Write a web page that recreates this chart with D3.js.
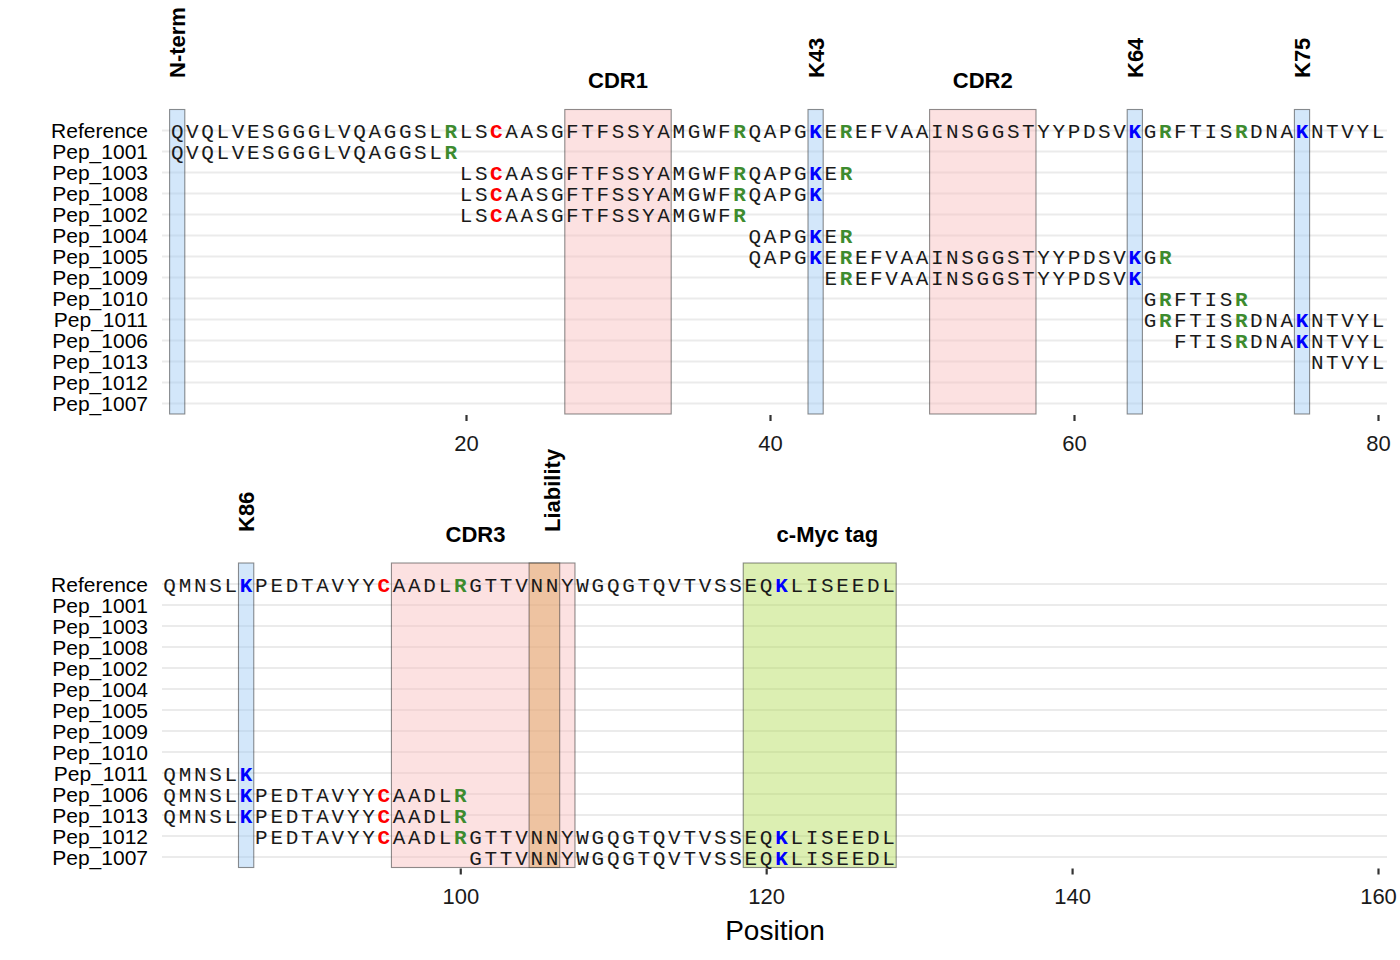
<!DOCTYPE html>
<html><head><meta charset="utf-8">
<script src="https://cdn.jsdelivr.net/npm/d3@7"></script>
<style>
body{margin:0;background:#fff;}
svg{display:block;}
</style></head>
<body>
<svg id="chart" width="1400" height="960"></svg>
<script>
// ---------------- DATA ----------------
const rowNames = ["Reference","Pep_1001","Pep_1003","Pep_1008","Pep_1002","Pep_1004","Pep_1005",
  "Pep_1009","Pep_1010","Pep_1011","Pep_1006","Pep_1013","Pep_1012","Pep_1007"];
const referenceSeq = "QVQLVESGGGLVQAGGSLRLSCAASGFTFSSYAMGWFRQAPGKEREFVAAINSGGSTYYPDSVKGRFTISRDNAKNTVYLQMNSLKPEDTAVYYCAADLRGTTVNNYWGQGTQVTVSSEQKLISEEDL";
const peptideIds = ["Pep_1001","Pep_1003","Pep_1008","Pep_1002","Pep_1004","Pep_1005","Pep_1009",
  "Pep_1010","Pep_1011","Pep_1006","Pep_1013","Pep_1012","Pep_1007"];
const peptideStarts = [1,20,20,20,39,39,44,65,65,67,76,87,101];
const peptideSeqs = [
  "QVQLVESGGGLVQAGGSLR",
  "LSCAASGFTFSSYAMGWFRQAPGKER",
  "LSCAASGFTFSSYAMGWFRQAPGK",
  "LSCAASGFTFSSYAMGWFR",
  "QAPGKER",
  "QAPGKEREFVAAINSGGSTYYPDSVKGR",
  "EREFVAAINSGGSTYYPDSVK",
  "GRFTISR",
  "GRFTISRDNAKNTVYLQMNSLK",
  "FTISRDNAKNTVYLQMNSLKPEDTAVYYCAADLR",
  "NTVYLQMNSLKPEDTAVYYCAADLR",
  "PEDTAVYYCAADLRGTTVNNYWGQGTQVTVSSEQKLISEEDL",
  "GTTVNNYWGQGTQVTVSSEQKLISEEDL"
];
const regionNames  = ["N-term","CDR1","K43","CDR2","K64","K75","K86","CDR3","Liability","c-Myc tag"];
const regionStarts = [1,27,43,51,64,75,86,96,105,119];
const regionEnds   = [1,33,43,57,64,75,86,107,106,128];
const regionLabelPos = [1,30,43,54,64,75,86,101,106,124];
const regionKinds  = ["site","cdr","site","cdr","site","site","site","cdr","liability","tag"];
const regionVertical = [true,false,true,false,true,true,true,false,true,false];
const panelDomains = [[0,80],[80.5,160]];
const tickValues = [[20,40,60,80],[100,120,140,160]];

// ---------------- STYLE ----------------
const kindFill = {site:"#9ecaf5", cdr:"#f8bcbc", liability:"#de9f55", tag:"#b1db54"};
const resColor = {K:"#0000ff", R:"#3d8b2f", C:"#ff0000"};
const panelTop = [130.5, 584];
const rowStep = 21;
const xRange = [162,1378];
const gridRight = 1387;

const svg = d3.select("#chart");

const xScales = panelDomains.map(d => d3.scaleLinear().domain(d).range(xRange));
const yScales = panelTop.map(t => d3.scaleLinear().domain([0, rowNames.length-1]).range([t, t+rowStep*(rowNames.length-1)]));
const panelOf = p => p <= 80 ? 0 : 1;

// Residue records
const residues = [];
referenceSeq.split("").forEach((a,i) => residues.push({row:0, pos:i+1, aa:a}));
peptideIds.forEach((id,k) => {
  const r = rowNames.indexOf(id);
  peptideSeqs[k].split("").forEach((a,i) => residues.push({row:r, pos:peptideStarts[k]+i, aa:a}));
});

const regions = regionNames.map((n,i) => ({name:n, start:regionStarts[i], end:regionEnds[i],
  label:regionLabelPos[i], kind:regionKinds[i], vertical:regionVertical[i]}));

[0,1].forEach(pi => {
  const x = xScales[pi], y = yScales[pi];
  const g = svg.append("g");
  // grid lines
  g.selectAll("line.grid").data(rowNames).join("line")
    .attr("x1", xRange[0]).attr("x2", gridRight)
    .attr("y1", (d,i) => y(i)).attr("y2", (d,i) => y(i))
    .attr("stroke", "#ebebeb").attr("stroke-width", 2);
  // row labels
  g.selectAll("text.row").data(rowNames).join("text")
    .attr("x", 148).attr("y", (d,i) => y(i)).attr("dy","0.36em")
    .attr("text-anchor","end").attr("font-family","Liberation Sans, Arial, sans-serif")
    .attr("font-size", 21).attr("fill","#000").text(d => d);
  // region boxes
  const regs = regions.filter(r => panelOf(r.start) === pi);
  const yTop = y(-1), yBot = y(rowNames.length - 0.5);
  g.selectAll("rect.reg").data(regs).join("rect")
    .attr("x", d => x(d.start - 0.5)).attr("width", d => x(d.end + 0.5) - x(d.start - 0.5))
    .attr("y", yTop).attr("height", yBot - yTop)
    .attr("fill", d => kindFill[d.kind]).attr("fill-opacity", 0.45)
    .attr("stroke", "#333").attr("stroke-opacity", 0.55).attr("stroke-width", 1.1);
  // region labels
  const labY = pi === 0 ? [78, 88] : [532, 542];
  regs.forEach(r => {
    const t = g.append("text").attr("font-family","Liberation Sans, Arial, sans-serif")
      .attr("font-weight","bold").attr("font-size",22).attr("fill","#000").text(r.name);
    if (r.vertical) {
      t.attr("transform", `translate(${x(r.label)},${labY[0]}) rotate(-90)`)
       .attr("dy","0.36em").attr("text-anchor","start");
    } else {
      t.attr("x", x(r.label)).attr("y", labY[1]).attr("text-anchor","middle");
    }
  });
  // residues
  const res = residues.filter(d => panelOf(d.pos) === pi);
  g.selectAll("text.res").data(res).join("text")
    .attr("x", d => x(d.pos)).attr("y", d => y(d.row)).attr("dy","0.36em")
    .attr("text-anchor","middle")
    .attr("font-family","Liberation Mono, Courier New, monospace")
    .attr("font-size", 21)
    .attr("font-weight", d => resColor[d.aa] ? "bold" : "normal")
    .attr("fill", d => resColor[d.aa] || "#1a1a1a")
    .text(d => d.aa);
  // axis
  const axisY = yBot + 1;
  const ax = g.append("g").attr("transform", `translate(0,${axisY})`)
    .call(d3.axisBottom(x).tickValues(tickValues[pi]).tickSize(6).tickPadding(14).tickFormat(d3.format("d")));
  ax.select(".domain").remove();
  ax.selectAll(".tick line").attr("stroke","#333").attr("stroke-width",2.2);
  ax.selectAll(".tick text").attr("font-family","Liberation Sans, Arial, sans-serif")
    .attr("font-size",22).attr("fill","#1a1a1a");
});

svg.append("text").attr("x", 775).attr("y", 940).attr("text-anchor","middle")
  .attr("font-family","Liberation Sans, Arial, sans-serif").attr("font-size",28)
  .attr("fill","#000").text("Position");
</script>
</body></html>
